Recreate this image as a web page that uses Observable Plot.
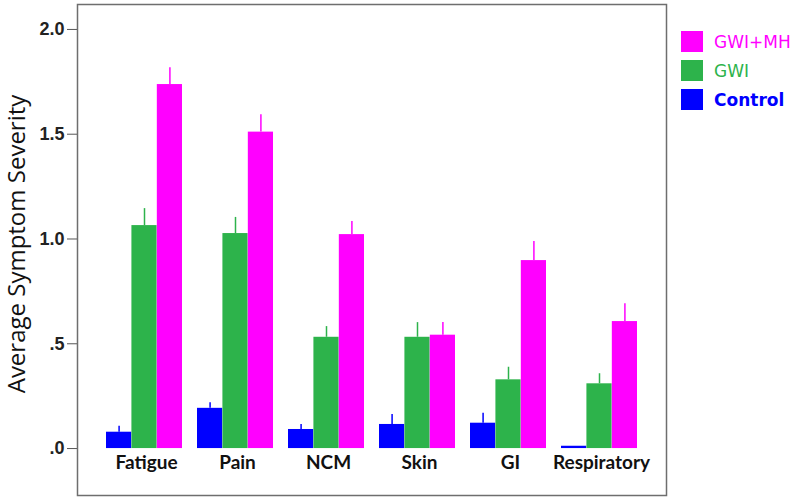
<!DOCTYPE html>
<html>
<head>
<meta charset="utf-8">
<script src="https://cdn.jsdelivr.net/npm/d3@7"></script>
<script src="https://cdn.jsdelivr.net/npm/@observablehq/plot@0.6"></script>
<style>
  html, body { margin: 0; padding: 0; background: #fff; }
  #wrap { position: relative; width: 800px; height: 503px; }
  #legend { position: absolute; left: 681px; top: 27px; font-family: "DejaVu Sans", sans-serif; font-size: 17px; }
  .item { display: flex; align-items: center; height: 29px; }
  .sw { width: 22px; height: 21px; margin-right: 11px; }
</style>
</head>
<body>
<div id="wrap">
  <div id="chart"></div>
  <div id="legend"></div>
</div>
<script>
const categories = ["Fatigue", "Pain", "NCM", "Skin", "GI", "Respiratory"];
const groups = ["Control", "GWI", "GWI+MH"];
const colors = ["#0000ff", "#2db34b", "#ff00ff"];
const controlMean = [0.078, 0.192, 0.091, 0.115, 0.121, 0.011];
const controlUpper = [0.106, 0.218, 0.115, 0.162, 0.169, 0.011];
const gwiMean = [1.064, 1.026, 0.531, 0.531, 0.328, 0.309];
const gwiUpper = [1.145, 1.103, 0.582, 0.601, 0.388, 0.357];
const mhMean = [1.737, 1.510, 1.021, 0.541, 0.897, 0.606];
const mhUpper = [1.817, 1.593, 1.084, 0.601, 0.988, 0.691];
const yTicks = [0, 0.5, 1.0, 1.5, 2.0];
const yTickLabels = [".0", ".5", "1.0", "1.5", "2.0"];
const yLabel = "Average Symptom Severity";

const means = [controlMean, gwiMean, mhMean];
const uppers = [controlUpper, gwiUpper, mhUpper];
const data = [];
groups.forEach((g, gi) => categories.forEach((c, ci) => {
  data.push({cat: c, group: g, gi, value: means[gi][ci], upper: uppers[gi][ci]});
}));
const ticks = yTicks.map((v, i) => ({v, label: yTickLabels[i]}));

const W = 800, H = 503;
const mL = 77, mR = 134, mT = 4, mB = 8;
const padIn = 0.166, padOut = 0.305;
const bw = d3.scaleBand(categories, [mL, W - mR]).paddingInner(padIn).paddingOuter(padOut).bandwidth();
const sub = bw / 3;

const marks = [];
groups.forEach((g, gi) => {
  const d = data.filter(r => r.gi === gi);
  marks.push(Plot.barY(d, {
    x: "cat", y: "value", fill: colors[gi],
    insetLeft: gi * sub, insetRight: (2 - gi) * sub
  }));
  marks.push(Plot.ruleX(d.filter(r => r.upper > r.value), {
    x: "cat", y1: "value", y2: "upper", stroke: colors[gi], strokeWidth: 1.5,
    dx: (gi - 1) * sub
  }));
});

const chart = Plot.plot({
  width: W, height: H,
  marginLeft: mL, marginRight: mR, marginTop: mT, marginBottom: mB,
  style: {background: "#fff"},
  x: {domain: categories, paddingInner: padIn, paddingOuter: padOut, axis: null},
  y: {domain: [-0.224, 2.119], axis: null},
  marks: [
    ...marks,
    Plot.axisY({
      ticks: yTicks, tickSize: 10, tickPadding: 3, label: null,
      tickFormat: () => "", stroke: "#555"
    }),
    Plot.text(ticks, {
      y: "v", text: "label", frameAnchor: "left", dx: -13, textAnchor: "end",
      fontSize: 18, fontWeight: "bold", fontFamily: "'Liberation Sans', Arial, sans-serif", fill: "#222"
    }),
    Plot.text(categories, {
      x: d => d, frameAnchor: "bottom", dy: -27, dx: 2,
      fontSize: 19, fontWeight: "bold", fontFamily: "Lato, sans-serif", fill: "#111"
    }),
    Plot.text([yLabel], {
      frameAnchor: "left", rotate: -90, dx: -60, dy: -6, textAnchor: "middle",
      fontSize: 24, fontWeight: "normal", fontFamily: "'Open Sans', sans-serif", fill: "#111"
    }),
    Plot.frame({stroke: "#6e6e6e", strokeWidth: 1.5})
  ]
});
document.getElementById("chart").appendChild(chart);

const legend = document.getElementById("legend");
const legendOrder = [2, 1, 0];
legendOrder.forEach(i => {
  const it = document.createElement("div");
  it.className = "item";
  it.innerHTML = `<div class="sw" style="background:${colors[i]}"></div><span style="color:${colors[i]};font-weight:${i === 0 ? "bold" : "normal"}">${groups[i]}</span>`;
  legend.appendChild(it);
});
</script>
</body>
</html>
